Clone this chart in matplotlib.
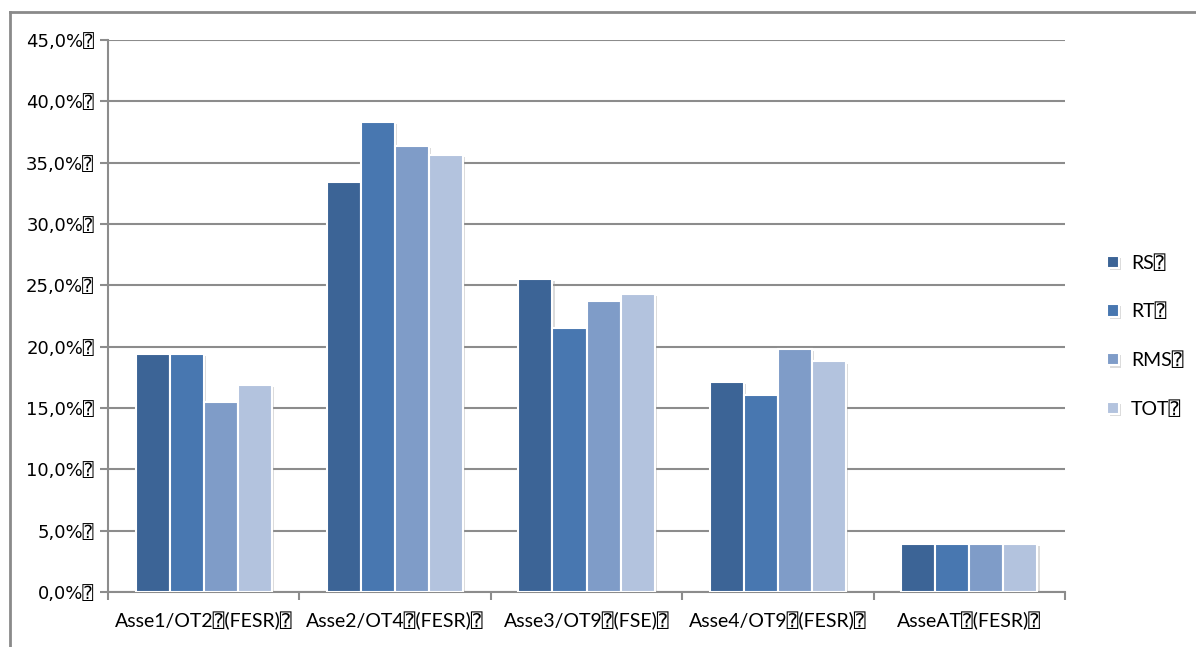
import numpy as np
import matplotlib.pyplot as plt
from matplotlib.lines import Line2D
from matplotlib import patheffects as pe

BOX = "\u2370"

categories = [
    "Asse1/OT2" + BOX + "(FESR)" + BOX,
    "Asse2/OT4" + BOX + "(FESR)" + BOX,
    "Asse3/OT9" + BOX + "(FSE)" + BOX,
    "Asse4/OT9" + BOX + "(FESR)" + BOX,
    "AsseAT" + BOX + "(FESR)" + BOX,
]
series_names = ["RS", "RT", "RMS", "TOT"]
rs = [19.4, 33.4, 25.5, 17.1, 3.9]
rt = [19.4, 38.3, 21.5, 16.1, 3.9]
rms = [15.5, 36.4, 23.7, 19.8, 3.9]
tot = [16.9, 35.6, 24.3, 18.8, 3.9]
y_ticks = [0, 5, 10, 15, 20, 25, 30, 35, 40, 45]

colors = ["#3c6496", "#4877b0", "#7f9cc8", "#b3c3de"]
grid_gray = "#8c8c8c"
label_fonts = ["Lato", "DejaVu Sans Mono", "DejaVu Sans"]
tick_fonts = ["DejaVu Sans", "DejaVu Sans Mono"]

fig = plt.figure(figsize=(11.96, 6.47), dpi=100)
ax = fig.add_axes([0.0903, 0.085, 0.8002, 0.853])

x = np.arange(len(categories))
width = 0.178
shadow = [pe.SimplePatchShadow(offset=(1.5, -1.5), shadow_rgbFace="#999999", alpha=0.35), pe.Normal()]
for i, (name, vals) in enumerate(zip(series_names, [rs, rt, rms, tot])):
    bars = ax.bar(x + (i - 1.5) * width, vals, width, color=colors[i],
                  edgecolor="white", linewidth=1.5, label=name + BOX, zorder=3)
    for b in bars:
        b.set_path_effects(shadow)

ax.set_xlim(-0.5, len(categories) - 0.5)
ax.set_ylim(0, 45)
ax.set_yticks(y_ticks)
ax.set_yticklabels([f"{v:.1f}".replace(".", ",") + "%" + BOX for v in y_ticks],
                   fontsize=13, family=tick_fonts)
ax.yaxis.grid(True, color=grid_gray, linewidth=1.5, zorder=0)
ax.set_axisbelow(True)

ax.set_xticks(x)
ax.set_xticklabels(categories, fontsize=14, family=label_fonts)
ax.set_xticks(np.arange(-0.5, len(categories)), minor=True)
ax.tick_params(axis="x", which="major", length=0, pad=14)
ax.tick_params(axis="x", which="minor", length=6, color=grid_gray, width=1.5)
ax.tick_params(axis="y", length=6, color=grid_gray, width=1.5, pad=4)

for s in ["top", "right"]:
    ax.spines[s].set_visible(False)
for s in ["left", "bottom"]:
    ax.spines[s].set_color(grid_gray)
    ax.spines[s].set_linewidth(1.5)

ax.legend(loc="center left", bbox_to_anchor=(1.026, 0.464), frameon=False,
          prop={"family": label_fonts, "size": 14},
          handlelength=0.6, handleheight=0.6, handletextpad=0.6,
          labelspacing=1.6)

# outer chart border
fig.add_artist(Line2D([10 / 1196, 1], [1 - 12 / 647, 1 - 12 / 647],
                      transform=fig.transFigure, color="#8a8a8a", linewidth=2))
fig.add_artist(Line2D([10 / 1196, 10 / 1196], [0, 1 - 12 / 647],
                      transform=fig.transFigure, color="#8a8a8a", linewidth=2))

fig.savefig("out.png", dpi=100)
